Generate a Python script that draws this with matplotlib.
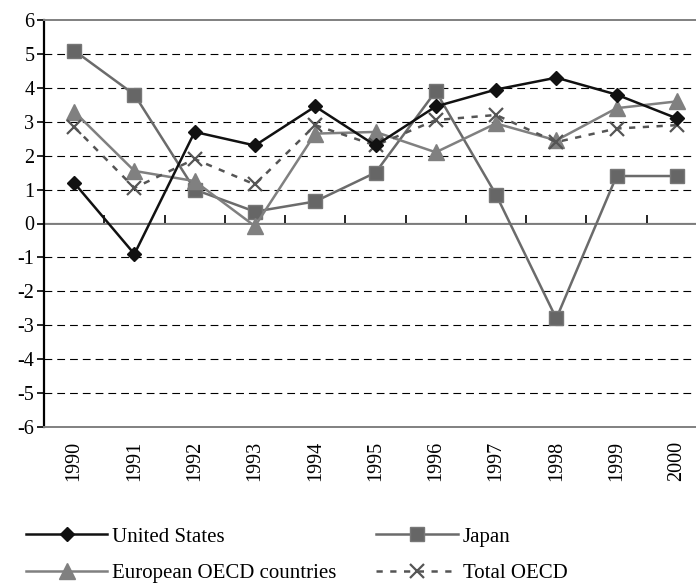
import matplotlib
matplotlib.use("Agg")
import matplotlib.pyplot as plt
from matplotlib.lines import Line2D

years = ["1990", "1991", "1992", "1993", "1994", "1995", "1996", "1997", "1998", "1999", "2000"]
united_states = [1.2, -0.9, 2.7, 2.3, 3.45, 2.3, 3.45, 3.95, 4.3, 3.8, 3.1]
japan = [5.1, 3.8, 1.0, 0.35, 0.65, 1.5, 3.9, 0.85, -2.8, 1.4, 1.4]
european_oecd = [3.3, 1.55, 1.25, -0.08, 2.65, 2.7, 2.1, 2.95, 2.45, 3.4, 3.6]
total_oecd = [2.85, 1.05, 1.9, 1.15, 2.9, 2.3, 3.05, 3.2, 2.4, 2.8, 2.9]

plt.rcParams['font.family'] = ['Liberation Serif', 'DejaVu Serif']
plt.rcParams['font.size'] = 14
plt.rcParams['axes.unicode_minus'] = False

fig = plt.figure(figsize=(6.96, 5.85), dpi=100)
W, H = 696, 585
ax = fig.add_axes([44 / W, 1 - 427 / H, (707 - 44) / W, (427 - 20) / H])

x = list(range(len(years)))

ax.set_ylim(-6, 6)
ax.set_xlim(-0.5, len(years) - 0.5)
ax.set_yticks(range(-6, 7))

for v in range(-5, 6):
    if v != 0:
        ax.axhline(v, color='black', lw=0.8, ls=(0, (7, 4.5)), zorder=1)

ax.axhline(0, color='#808080', lw=1.4, zorder=1)

ax.plot(x, japan, color='#6b6b6b', lw=1.8, marker='s', ms=10,
        mfc='#666666', mec='#777777', zorder=3)
ax.plot(x, european_oecd, color='#808080', lw=1.8, marker='^', ms=11,
        mfc='#808080', mec='#808080', zorder=3)
ax.plot(x, total_oecd, color='#555555', lw=1.8, ls=(0, (2.5, 3)), marker='x', ms=10,
        mew=1.6, mfc='#555555', mec='#555555', zorder=3)
ax.plot(x, united_states, color='#111111', lw=1.8, marker='D', ms=7.5,
        mfc='#111111', mec='#111111', zorder=4)

ax.set_xticks(x)
ax.set_xticklabels(years, rotation=90, fontsize=14.5)
ax.tick_params(axis='x', length=0, pad=10)
ax.tick_params(axis='y', direction='out', length=5, width=1.2, labelsize=14.5, pad=2, color='black')

for s in ['top', 'bottom']:
    ax.spines[s].set_color('#808080')
    ax.spines[s].set_linewidth(1.4)
ax.spines['right'].set_visible(False)
ax.spines['left'].set_color('black')
ax.spines['left'].set_linewidth(1.6)

sec = ax.secondary_xaxis(0.5)
sec.set_xticks([i + 0.5 for i in range(len(years) - 1)])
sec.set_xticklabels([])
sec.tick_params(direction='out', length=6, width=1.2, color='black')
sec.spines['bottom'].set_visible(False)

handles = [
    Line2D([], [], color='#111111', lw=1.8, marker='D', ms=7.5, mfc='#111111', mec='#111111'),
    Line2D([], [], color='#808080', lw=1.8, marker='^', ms=11, mfc='#808080', mec='#808080'),
    Line2D([], [], color='#6b6b6b', lw=1.8, marker='s', ms=10, mfc='#666666', mec='#777777'),
    Line2D([], [], color='#555555', lw=1.8, ls=(0, (2.5, 3)), marker='x', ms=10, mew=1.6,
           mfc='#555555', mec='#555555'),
]
labels = ["United States", "European OECD countries", "Japan", "Total OECD"]
fig.legend(handles, labels, ncol=2, loc='upper left', bbox_to_anchor=(26 / W, 1 - 527 / H),
           frameon=False, fontsize=15, handlelength=3.9, handletextpad=0.25,
           columnspacing=1.9, labelspacing=0.8, borderaxespad=0, borderpad=0)

fig.savefig("out.png", dpi=100)
